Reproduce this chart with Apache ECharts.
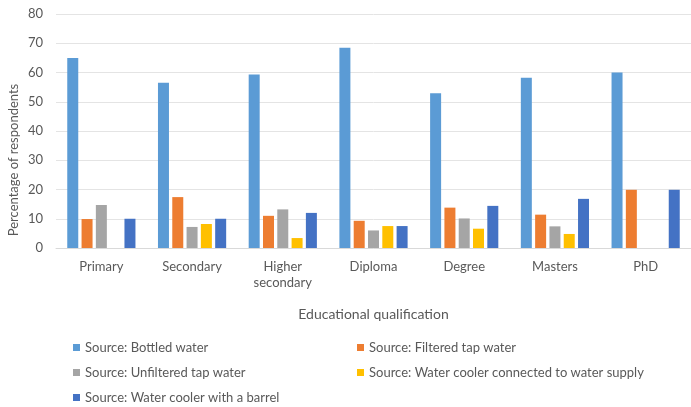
<!DOCTYPE html>
<html>
<head>
<meta charset="utf-8">
<script src="https://cdn.jsdelivr.net/npm/echarts@6/dist/echarts.min.js"></script>
<style>html,body{margin:0;padding:0;background:#fff;}#c{width:691px;height:407px;}</style>
</head>
<body>
<div id="c"></div>
<script>
const categories = ["Primary", "Secondary", "Higher\nsecondary", "Diploma", "Degree", "Masters", "PhD"];
const seriesNames = ["Source: Bottled water", "Source: Filtered tap water", "Source: Unfiltered tap water", "Source: Water cooler connected to water supply", "Source: Water cooler with a barrel"];
const bottled = [65.0, 56.5, 59.3, 68.5, 52.9, 58.2, 60.0];
const filtered = [9.9, 17.4, 11.0, 9.3, 13.8, 11.4, 19.9];
const unfiltered = [14.7, 7.2, 13.2, 6.0, 10.1, 7.4, 0];
const coolerSupply = [0, 8.2, 3.4, 7.5, 6.6, 4.8, 0];
const coolerBarrel = [10.0, 10.0, 12.0, 7.5, 14.4, 16.8, 19.9];
const yTicks = { min: 0, max: 80, interval: 10 };

const colors = ["#5B9BD5", "#ED7D31", "#A5A5A5", "#FFC000", "#4472C4"];
const values = [bottled, filtered, unfiltered, coolerSupply, coolerBarrel];
const font = "Lato, 'Open Sans', sans-serif";
const txt = "#595959";

function legendCol(names, left) {
  return { data: names, orient: 'vertical', left: left, top: 340, padding: 0, height: 67,
    itemWidth: 7, itemHeight: 7, itemGap: 10, icon: 'rect',
    textStyle: { color: txt, fontSize: 13, fontFamily: font, lineHeight: 15 } };
}

const chart = echarts.init(document.getElementById('c'));
chart.setOption({
  animation: false,
  color: colors,
  textStyle: { fontFamily: font },
  grid: { left: 56, top: 14, width: 645, height: 234 },
  legend: [
    legendCol([seriesNames[0], seriesNames[2], seriesNames[4]], 73),
    legendCol([seriesNames[1], seriesNames[3]], 357)
  ],
  graphic: [{
    type: 'text', x: 14, y: 160, rotation: Math.PI / 2,
    style: { text: 'Percentage of respondents', fill: txt, font: '13px ' + font, align: 'center', verticalAlign: 'middle' }
  }],
  xAxis: {
    type: 'category', data: categories,
    axisLine: { lineStyle: { color: '#d9d9d9' } },
    axisTick: { show: false },
    axisLabel: { color: txt, fontSize: 13, lineHeight: 16, margin: 11, interval: 0 },
    name: 'Educational qualification', nameLocation: 'middle', nameGap: 59,
    nameTextStyle: { color: txt, fontSize: 14, fontFamily: font }
  },
  yAxis: {
    type: 'value', min: yTicks.min, max: yTicks.max, interval: yTicks.interval,
    axisLine: { show: false }, axisTick: { show: false },
    axisLabel: { color: txt, fontSize: 13, margin: 13 },
    splitLine: { lineStyle: { color: '#e4e4e4' } }
  },
  series: seriesNames.map((n, i) => ({
    name: n, type: 'bar', data: values[i], barWidth: 11, barGap: '30%',
    itemStyle: { color: colors[i] }
  }))
});
</script>
</body>
</html>
